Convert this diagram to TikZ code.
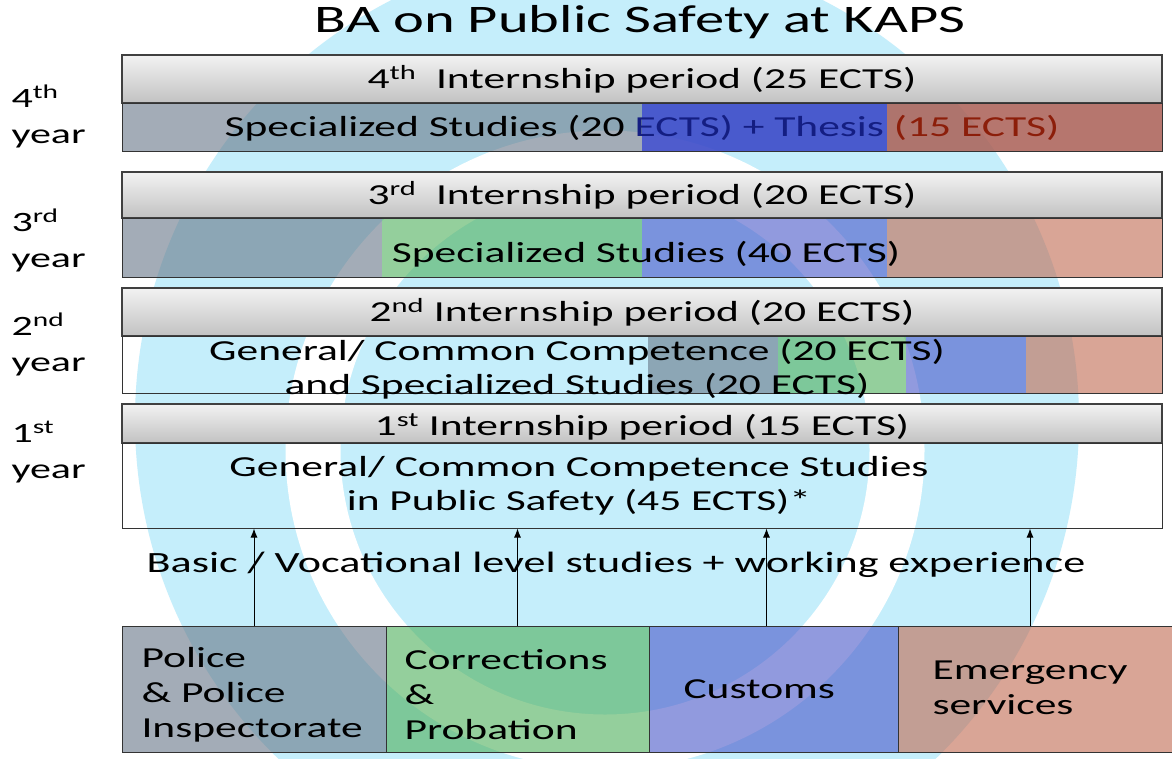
\documentclass[tikz,border=0pt]{standalone}
\usepackage{fontspec}
\setmainfont[FakeStretch=1.5]{Carlito}
\usetikzlibrary{arrows.meta,positioning}
\definecolor{logo}{RGB}{197,238,251}
\definecolor{polc}{RGB}{102,118,135}
\definecolor{corr}{RGB}{78,175,90}
\definecolor{cust}{RGB}{73,87,201}
\definecolor{emer}{RGB}{193,105,80}
\definecolor{thes}{RGB}{60,75,200}
\definecolor{thesred}{RGB}{170,95,85}
\definecolor{navy}{RGB}{20,30,130}
\definecolor{darkred}{RGB}{140,30,10}
\tikzset{>={Latex[length=9pt,width=7pt]}}

\begin{document}
\begin{tikzpicture}[x=1pt,y=-1pt,font=\fontsize{29}{34}\selectfont,
    intern/.style={draw=black!75,line width=1.2pt,top color=black!5,bottom color=black!24,
      minimum width=1040pt,minimum height=#1,inner sep=0pt},
    study/.style={draw=black!80,line width=1pt,minimum width=1040pt,minimum height=#1,inner sep=0pt},
    seg/.style={fill=#1,fill opacity=.6},
    unit/.style={draw=black!80,line width=1pt,fill=#1,fill opacity=.6,minimum height=126pt},
    utext/.style={anchor=west,align=left,font=\fontsize{29}{35}\selectfont},
    yr/.style={anchor=west,align=left,font=\fontsize{28}{36}\selectfont}]
  \useasboundingbox[fill=white] (0,0) rectangle (1172,758);
  \begin{scope}
    \clip (0,0) rectangle (1172,758);
    \fill[logo] (607,420) circle[radius=472pt];
    \draw[white,line width=55pt] (605,450) circle[radius=292pt];
  \end{scope}

  \node[font=\fontsize{39}{42}\selectfont] (title) at (640,22) {BA on Public Safety at KAPS};

  \node[yr] (y4) at (8,116) {4\textsuperscript{th}\\year};
  \node[yr] (y3) at (8,240) {3\textsuperscript{rd}\\year};
  \node[yr] (y2) at (8,344) {2\textsuperscript{nd}\\year};
  \node[yr] (y1) at (8,452) {1\textsuperscript{st}\\year};

  \fill[seg=polc] (122,103) rectangle (642,151);
  \fill[thes,fill opacity=.9] (642,103) rectangle (887,151);
  \fill[thesred,fill opacity=.85] (887,103) rectangle (1162,151);
  \node[intern=48pt] (int4) at (642,79) {4\textsuperscript{th}\ \ Internship period (25 ECTS)};
  \node[study=48pt] (std4) at (642,127) {};
  \node (sp4) at (642,128) {Specialized Studies (20 \textcolor{navy}{ECTS) + Thesis} \textcolor{darkred}{(15 ECTS)}};

  \fill[seg=polc] (122,218) rectangle (382,277);
  \fill[seg=corr] (382,218) rectangle (642,277);
  \fill[seg=cust] (642,218) rectangle (887,277);
  \fill[seg=emer] (887,218) rectangle (1162,277);
  \node[intern=46pt] (int3) at (642,195) {3\textsuperscript{rd}\ \ Internship period (20 ECTS)};
  \node[study=59pt] (std3) at (642,247.5) {};
  \node (sp3) at (646,254) {Specialized Studies (40 ECTS)};

  \fill[seg=polc] (648,336) rectangle (778,393);
  \fill[seg=corr] (778,336) rectangle (906,393);
  \fill[seg=cust] (906,336) rectangle (1026,393);
  \fill[seg=emer] (1026,336) rectangle (1162,393);
  \node[intern=48pt] (int2) at (642,312) {2\textsuperscript{nd} Internship period (20 ECTS)};
  \node[study=57pt] (std2) at (642,364.5) {};
  \node[align=center] (gc2) at (577,369) {General/ Common Competence (20 ECTS)\\and Specialized Studies (20 ECTS)};

  \node[intern=39pt] (int1) at (642,423.5) {};
  \node (int1txt) at (642,427) {1\textsuperscript{st} Internship period (15 ECTS)};
  \node[study=85pt] (std1) at (642,485.5) {};
  \node[align=center] (gc1) at (579,486) {General/ Common Competence Studies\\in Public Safety (45 ECTS)*};

  \node[font=\fontsize{29.4}{34}\selectfont] (basic) at (616,565) {Basic / Vocational level studies + working experience};

  \node[unit=polc,minimum width=264pt] (police) at (254,689) {};
  \node[unit=corr,minimum width=263pt] (correct) at (517.5,689) {};
  \node[unit=cust,minimum width=249pt] (customs) at (773.5,689) {};
  \node[unit=emer,minimum width=274pt] (emerg) at (1035,689) {};
  \node[utext] (policetxt) at (138,695) {Police\\\& Police\\Inspectorate};
  \node[utext] (correcttxt) at (401,695) {Corrections\\\&\\Probation};
  \node[utext] (customstxt) at (680,689) {Customs};
  \node[utext] (emergtxt) at (929,688) {Emergency\\services};

  \foreach \u/\s in {police/0,correct/0,customs/-7,emerg/-5}
    \draw[->,line width=1pt] ([xshift=\s pt]\u.north) -- ([xshift=\s pt]\u.north |- std1.south);
\end{tikzpicture}
\end{document}
